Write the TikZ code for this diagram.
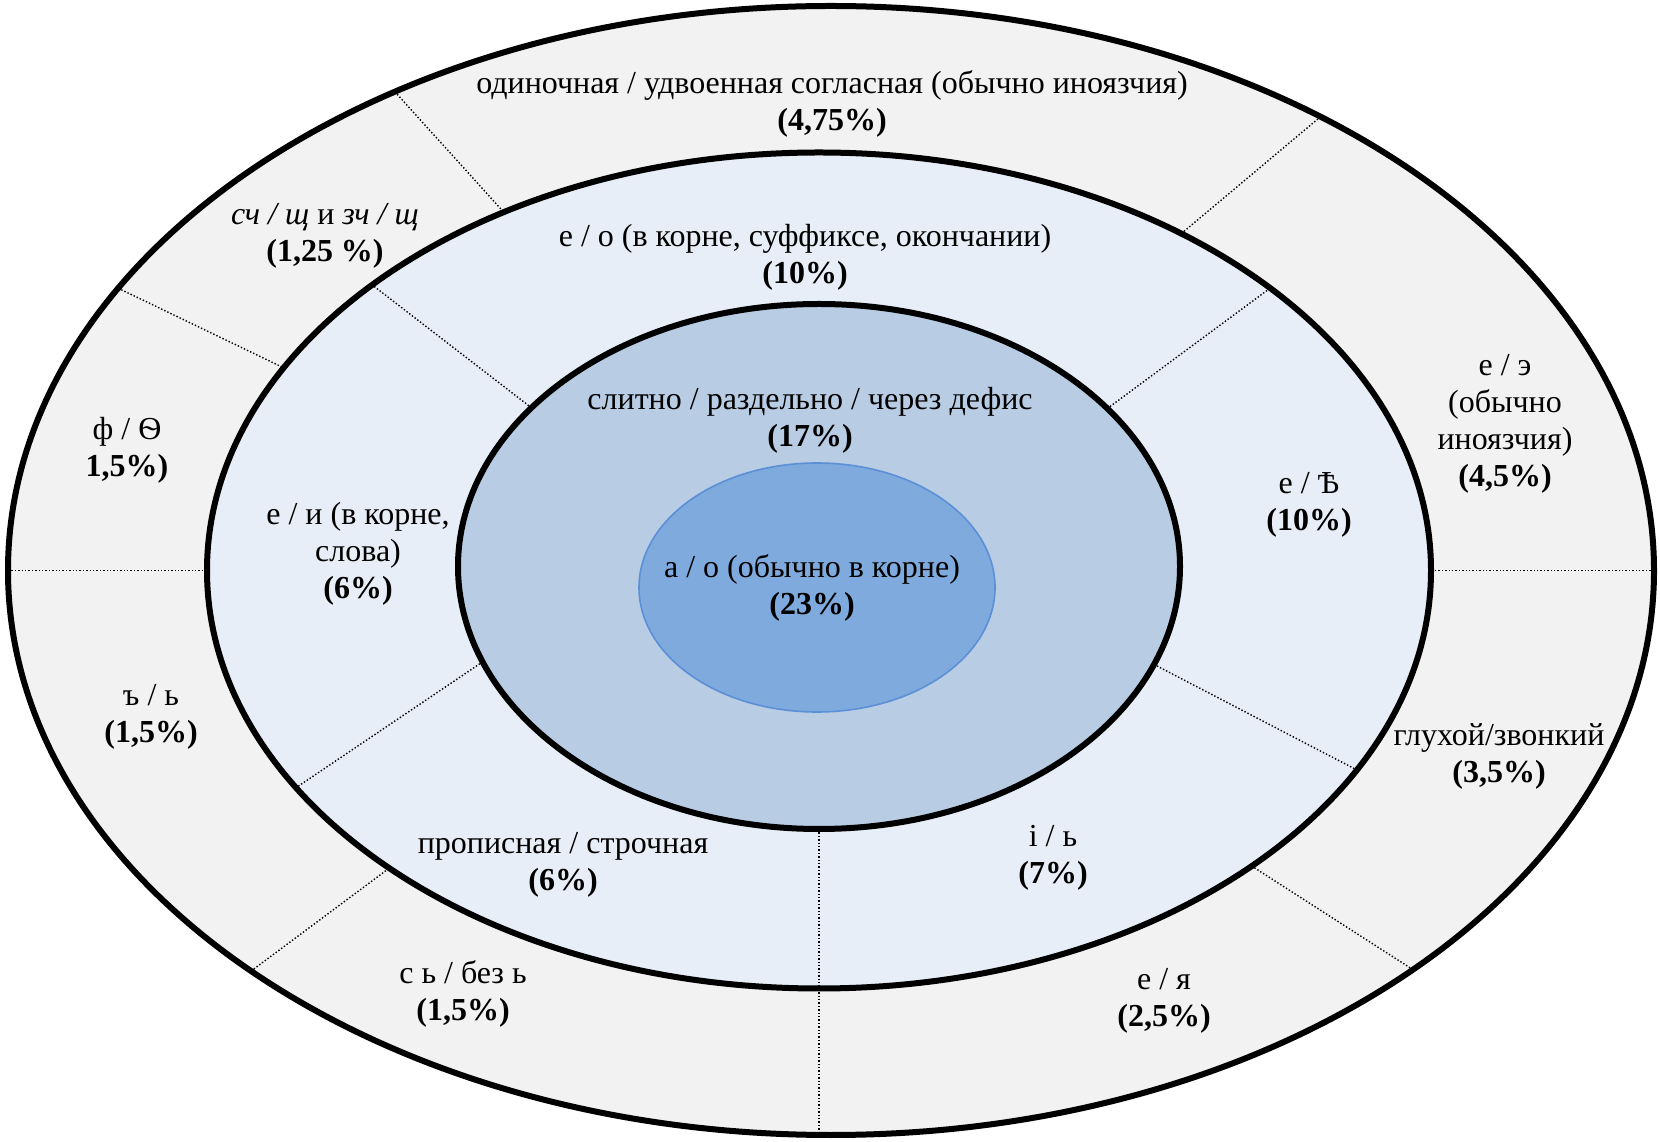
\documentclass[tikz,border=0pt]{standalone}
\usepackage{fontspec}
\setmainfont{Liberation Serif}
\tikzset{
  ring/.style = {draw = black, line width = 3pt},
  divider/.style = {draw = black, line width = 0.7pt, dash pattern = on 0.7pt off 1pt},
  lbl/.style = {align = center, inner sep = 0pt, yshift = -1.5pt, font = \fontsize{16}{18.5}\selectfont}
}
\begin{document}
\begin{tikzpicture}[x = 0.5pt, y = 0.5pt]
\useasboundingbox (0,0) rectangle (1660,1141);
\definecolor{outerfill}{HTML}{F2F2F2}
\definecolor{middlefill}{HTML}{E8EEF7}
\definecolor{innerfill}{HTML}{B8CCE4}
\definecolor{corefill}{HTML}{7FAADD}
\definecolor{coreline}{HTML}{5B8FD6}
\coordinate (outer) at (831,570.5);
\coordinate (middle) at (819,570.5);
\coordinate (inner) at (819,574.5);
\coordinate (core) at (817,553.5);
\fill [outerfill] (outer) ellipse [x radius = 823, y radius = 564.5];
\fill [middlefill] (middle) ellipse [x radius = 612, y radius = 418];
\fill [innerfill] (inner) ellipse [x radius = 361, y radius = 262.5];
\foreach \a/\b in {122/121, 53.5/53.7, 150/151, 180/180, 0/0, 225.2/225.4, 315/315}
  \draw [divider] ([shift = {(\a:823 and 564.5)}]outer) -- ([shift = {(\b:612 and 418)}]middle);
\foreach \a/\b in {142.8/136.9, 37/42.5, 201.3/211.3, 338.1/331.5}
  \draw [divider] ([shift = {(\a:361 and 262.5)}]inner) -- ([shift = {(\b:612 and 418)}]middle);
\draw [divider] ([shift = {(270:361 and 262.5)}]inner) -- ++(0,-306);
\draw [ring] (outer) ellipse [x radius = 823, y radius = 564.5];
\draw [ring] (middle) ellipse [x radius = 612, y radius = 418];
\draw [ring] (inner) ellipse [x radius = 361, y radius = 262.5];
\draw [fill = corefill, draw = coreline, line width = 0.8pt] (core) ellipse [x radius = 178, y radius = 124.5];
\node [lbl] (lone) at (832,1040) {одиночная / удвоенная согласная (обычно иноязчия)\\\textbf{(4,75\%)}};
\node [lbl] (shch) at (325,908) {\textit{сч / щ} и \textit{зч / щ}\\\textbf{(1,25 \%)}};
\node [lbl] (fita) at (127,694) {ф / Ѳ\\\textbf{1,5\%)}};
\node [lbl] (hard) at (151,427.5) {ъ / ь\\\textbf{(1,5\%)}};
\node [lbl] (soft) at (463,150.5) {с ь / без ь\\\textbf{(1,5\%)}};
\node [lbl] (eya) at (1164,143) {е / я\\\textbf{(2,5\%)}};
\node [lbl] (voice) at (1499,388) {глухой/звонкий\\\textbf{(3,5\%)}};
\node [lbl] (ee) at (1505,720.5) {е / э\\(обычно\\иноязчия)\\\textbf{(4,5\%)}};
\node [lbl] (eo) at (805,886.5) {е / о (в корне, суффиксе, окончании)\\\textbf{(10\%)}};
\node [lbl] (ei) at (358,590) {е / и (в корне,\\слова)\\\textbf{(6\%)}};
\node [lbl] (yat) at (1309,639) {е / Ѣ\\\textbf{(10\%)}};
\node [lbl] (caps) at (563,279) {прописная / строчная\\\textbf{(6\%)}};
\node [lbl] (ib) at (1053,286.5) {і / ь\\\textbf{(7\%)}};
\node [lbl] (hyph) at (810,724) {слитно / раздельно / через дефис\\\textbf{(17\%)}};
\node [lbl] (ao) at (812,556.5) {а / о (обычно в корне)\\\textbf{(23\%)}};
\end{tikzpicture}
\end{document}
